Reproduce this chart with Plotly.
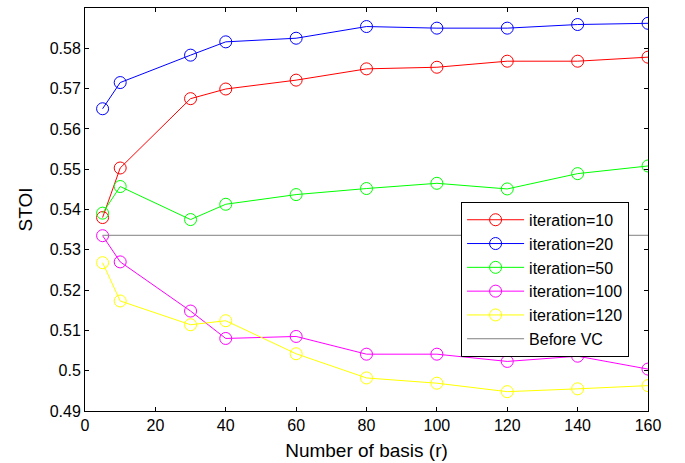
import plotly.graph_objects as go

basis = [5, 10, 30, 40, 60, 80, 100, 120, 140, 160]
iter10 = [0.5380, 0.5503, 0.5675, 0.5699, 0.5721, 0.5749, 0.5753, 0.5768, 0.5768, 0.5778]
iter20 = [0.5650, 0.5715, 0.5783, 0.5816, 0.5825, 0.5854, 0.5850, 0.5850, 0.5859, 0.5862]
iter50 = [0.5391, 0.5457, 0.5375, 0.5413, 0.5437, 0.5452, 0.5465, 0.5451, 0.5489, 0.5508]
iter100 = [0.5335, 0.5270, 0.5148, 0.5080, 0.5085, 0.5041, 0.5041, 0.5023, 0.5036, 0.5004]
iter120 = [0.5268, 0.5173, 0.5114, 0.5124, 0.5042, 0.4982, 0.4969, 0.4948, 0.4955, 0.4963]
before_vc = 0.5336

series_names = ["iteration=10", "iteration=20", "iteration=50", "iteration=100", "iteration=120"]
series_colors = ["#ff0000", "#0000ff", "#00ff00", "#ff00ff", "#ffff00"]
series_values = [iter10, iter20, iter50, iter100, iter120]

x_ticks = [0, 20, 40, 60, 80, 100, 120, 140, 160]
y_ticks = [0.49, 0.50, 0.51, 0.52, 0.53, 0.54, 0.55, 0.56, 0.57, 0.58, 0.59]
y_tick_text = ["0.49", "0.5", "0.51", "0.52", "0.53", "0.54", "0.55", "0.56", "0.57", "0.58", "0.59"]

FONT = "Liberation Sans, Arial, sans-serif"

fig = go.Figure()
for name, color, vals in zip(series_names, series_colors, series_values):
    fig.add_trace(go.Scatter(
        x=basis, y=vals, mode="lines+markers", name=name, legendgroup=name,
        line=dict(color=color, width=1),
        marker=dict(symbol="circle-open", size=12, color=color, line=dict(width=1)),
    ))
fig.add_trace(go.Scatter(
    x=[basis[0], basis[-1]], y=[before_vc, before_vc], mode="lines", name="Before VC",
    legendgroup="Before VC",
    line=dict(color="#808080", width=1),
))

axis_common = dict(
    showline=True, linecolor="black", linewidth=1, mirror="ticks",
    ticks="inside", ticklen=4, tickcolor="black", showgrid=False, zeroline=False,
    automargin=False,
    tickfont=dict(family=FONT, size=16, color="black"),
)
fig.update_xaxes(range=[0, 160], tickvals=x_ticks,
                 title=dict(text="Number of basis (r)", font=dict(family=FONT, size=19, color="black"), standoff=10),
                 **axis_common)
fig.update_yaxes(range=[0.49, 0.59], tickvals=y_ticks, ticktext=y_tick_text,
                 title=dict(text="STOI", font=dict(family=FONT, size=19, color="black"), standoff=12),
                 **axis_common)

fig.update_layout(
    width=685, height=463,
    margin=dict(l=85, r=37, t=8, b=52),
    paper_bgcolor="white", plot_bgcolor="white",
    font=dict(family=FONT, color="black"),
    legend=dict(
        x=0.668, y=0.519, xanchor="left", yanchor="top",
        bgcolor="white", bordercolor="black", borderwidth=1,
        font=dict(family=FONT, size=16, color="black"),
        tracegroupgap=0, itemwidth=57,
    ),
)

fig.write_html("out.html")
